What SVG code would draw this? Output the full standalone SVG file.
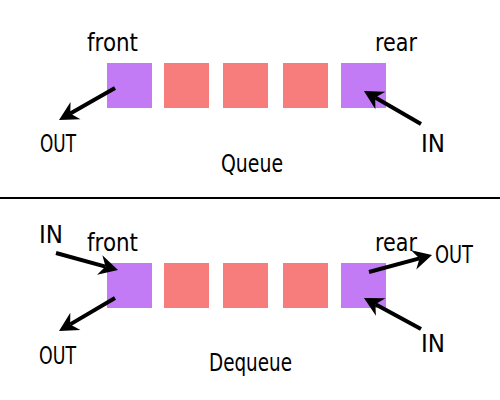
<svg xmlns="http://www.w3.org/2000/svg" width="500" height="400" viewBox="0 0 500 400">
<style>
.lbl{font-family:"DejaVu Sans","Liberation Sans",sans-serif;font-size:25px;fill:#000}
.end{fill:#c27bf5}
.mid{fill:#f77c7c}
.arr{stroke:#000;stroke-width:4;fill:none;marker-end:url(#ah)}
</style>
<defs>
<marker id="ah" markerUnits="userSpaceOnUse" markerWidth="24" markerHeight="24" viewBox="-2 -12 24 24" refX="5" refY="0" orient="auto">
<path d="M18,0 L-1,-10 L5,0 L-1,10 Z" fill="#000"/>
</marker>
</defs>
<rect width="500" height="400" fill="#fff"/>
<g id="queue">
<rect class="end" x="107" y="63" width="45" height="45"/>
<rect class="mid" x="164" y="63" width="45" height="45"/>
<rect class="mid" x="223" y="63" width="45" height="45"/>
<rect class="mid" x="283" y="63" width="45" height="45"/>
<rect class="end" x="341" y="63" width="45" height="45"/>
<text class="lbl" x="87" y="51" textLength="51" lengthAdjust="spacingAndGlyphs">front</text>
<text class="lbl" x="375" y="51" textLength="42" lengthAdjust="spacingAndGlyphs">rear</text>
<text class="lbl" x="40" y="152" textLength="36" lengthAdjust="spacingAndGlyphs">OUT</text>
<text class="lbl" x="421" y="152" textLength="24" lengthAdjust="spacingAndGlyphs">IN</text>
<text class="lbl" x="221" y="172" textLength="62" lengthAdjust="spacingAndGlyphs">Queue</text>
</g>
<g id="divider">
<line x1="0" y1="198" x2="500" y2="198" stroke="#000" stroke-width="2"/>
</g>
<g id="dequeue">
<rect class="end" x="107" y="263" width="45" height="45"/>
<rect class="mid" x="164" y="263" width="45" height="45"/>
<rect class="mid" x="223" y="263" width="45" height="45"/>
<rect class="mid" x="283" y="263" width="45" height="45"/>
<rect class="end" x="341" y="263" width="45" height="45"/>
<text class="lbl" x="87" y="251" textLength="51" lengthAdjust="spacingAndGlyphs">front</text>
<text class="lbl" x="375" y="251" textLength="42" lengthAdjust="spacingAndGlyphs">rear</text>
<text class="lbl" x="39" y="243" textLength="24" lengthAdjust="spacingAndGlyphs">IN</text>
<text class="lbl" x="39" y="364" textLength="37" lengthAdjust="spacingAndGlyphs">OUT</text>
<text class="lbl" x="435" y="263" textLength="38" lengthAdjust="spacingAndGlyphs">OUT</text>
<text class="lbl" x="421" y="352" textLength="24" lengthAdjust="spacingAndGlyphs">IN</text>
<text class="lbl" x="209" y="371" textLength="83" lengthAdjust="spacingAndGlyphs">Dequeue</text>
</g>
<g id="connectors">
<line class="arr" x1="115" y1="88" x2="70.3" y2="113.6"/>
<line class="arr" x1="421" y1="124" x2="375.2" y2="97.5"/>
<line class="arr" x1="56" y1="253" x2="105.5" y2="266.6"/>
<line class="arr" x1="115" y1="298" x2="70.2" y2="324.4"/>
<line class="arr" x1="369" y1="272" x2="419.5" y2="258.4"/>
<line class="arr" x1="421" y1="329" x2="375.4" y2="304.2"/>
</g>
</svg>
